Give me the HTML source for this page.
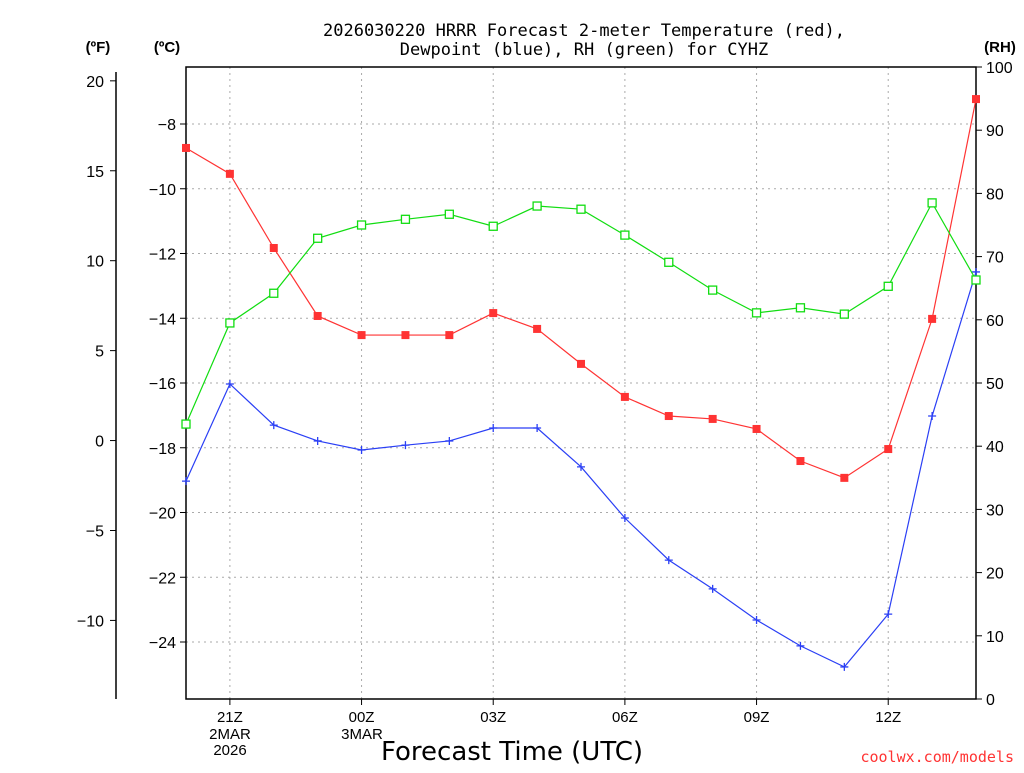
<!DOCTYPE html>
<html><head><meta charset="utf-8"><style>
body{margin:0;background:#fff;width:1024px;height:768px;overflow:hidden}
text{font-family:"Liberation Sans","DejaVu Sans",sans-serif}
</style></head><body>
<svg id="c" width="1024" height="768">
<text x="584" y="36" font-size="17" text-anchor="middle" style="font-family:'DejaVu Sans Mono','Liberation Mono',monospace">2026030220 HRRR Forecast 2-meter Temperature (red),</text>
<text x="584" y="55" font-size="17" text-anchor="middle" style="font-family:'DejaVu Sans Mono','Liberation Mono',monospace">Dewpoint (blue), RH (green) for CYHZ</text>
<text x="98" y="52" font-size="15" font-weight="bold" text-anchor="middle">(ºF)</text>
<text x="167" y="52" font-size="15" font-weight="bold" text-anchor="middle">(ºC)</text>
<text x="1000" y="52" font-size="15" font-weight="bold" text-anchor="middle">(RH)</text>
<text x="512" y="760" font-size="26" text-anchor="middle" style="font-family:'DejaVu Sans',sans-serif">Forecast Time (UTC)</text>
<text x="1014" y="762" font-size="15" fill="#f33" text-anchor="end" style="font-family:'DejaVu Sans Mono',monospace">coolwx.com/models</text>
<g id="g"></g>
</svg>
<script>
const hours=["20","21","22","23","00","01","02","03","04","05","06","07","08","09","10","11","12","13","14"];
const tempC=[-8.74,-9.54,-11.83,-13.93,-14.52,-14.52,-14.52,-13.84,-14.33,-15.41,-16.43,-17.02,-17.11,-17.42,-18.41,-18.93,-18.04,-14.02,-7.23];
const dewC=[-19.03,-16.03,-17.30,-17.79,-18.07,-17.92,-17.79,-17.39,-17.39,-18.59,-20.17,-21.47,-22.36,-23.32,-24.12,-24.77,-23.14,-17.02,-12.57];
const rh=[43.5,59.5,64.2,72.9,75.0,75.9,76.7,74.8,78.0,77.5,73.4,69.1,64.7,61.1,61.9,60.9,65.3,78.5,66.3];
const cTicks=[-8,-10,-12,-14,-16,-18,-20,-22,-24];
const fTicks=[20,15,10,5,0,-5,-10];
const rhTicks=[0,10,20,30,40,50,60,70,80,90,100];
const NS="http://www.w3.org/2000/svg",G=document.getElementById('g');
const X0=186,X1=976,Y0=67,Y1=699;
const xs=i=>X0+(X1-X0)*i/(hours.length-1);
const yC=c=>124+(-8-c)*32.375;
const yF=f=>yC((f-32)*5/9);
const yR=r=>Y1-(Y1-Y0)*r/100;
function el(t,a,p){const e=document.createElementNS(NS,t);for(const k in a)e.setAttribute(k,a[k]);(p||G).appendChild(e);return e;}
cTicks.forEach(c=>{const l=el('line',{x1:X0,x2:X1,y1:yC(c),y2:yC(c),stroke:'#aaa','stroke-dasharray':'2,4'});

});
hours.forEach((h,i)=>{if(i%3!==1)return;const x=xs(i);
const l=el('line',{x1:x,x2:x,y1:Y0,y2:Y1,stroke:'#aaa','stroke-dasharray':'2,4'});


const tk=el('line',{x1:x,x2:x,y1:Y1,y2:Y1+6,stroke:'#000'});


const t=el('text',{x:x,y:722,'font-size':15,'text-anchor':'middle'});t.textContent=h+'Z';

});
[["2MAR",230,739],["2026",230,755],["3MAR",362,739]].forEach(d=>{const t=el('text',{x:d[1],y:d[2],'font-size':15,'text-anchor':'middle'});t.textContent=d[0];

});
const fr=el('rect',{x:X0,y:Y0,width:X1-X0,height:Y1-Y0,fill:'none',stroke:'#000','stroke-width':1.5});


const fa=el('line',{x1:116,x2:116,y1:72,y2:Y1,stroke:'#000','stroke-width':1.5});


cTicks.forEach(c=>{const y=yC(c);el('line',{x1:X0-6,x2:X0,y1:y,y2:y,stroke:'#000'});
const t=el('text',{x:176,y:y+6,'font-size':16,'text-anchor':'end'});t.textContent='\u2212'+Math.abs(c);

});
fTicks.forEach(f=>{const y=yF(f);el('line',{x1:110,x2:116,y1:y,y2:y,stroke:'#000'});
const t=el('text',{x:104,y:y+6,'font-size':16,'text-anchor':'end'});t.textContent=(f<0?'\u2212':'')+Math.abs(f);

});
rhTicks.forEach(r=>{const y=yR(r);el('line',{x1:X1,x2:X1+6,y1:y,y2:y,stroke:'#000'});
const t=el('text',{x:986,y:y+6,'font-size':16});t.textContent=r;

});
function series(vals,yf,col,mk,name){
const p=el('polyline',{points:vals.map((v,i)=>xs(i)+','+yf(v)).join(' '),fill:'none',stroke:col,'stroke-width':1.2});


vals.forEach((v,i)=>{const x=xs(i),y=yf(v);let m;
if(mk==='sq')m=el('rect',{x:x-4,y:y-4,width:8,height:8,fill:col});
else if(mk==='open')m=el('rect',{x:x-4,y:y-4,width:8,height:8,fill:'#fff',stroke:col,'stroke-width':1.3});
else m=el('path',{d:`M${x-4},${y}H${x+4}M${x},${y-4}V${y+4}`,stroke:col,'stroke-width':1.3});

});}
series(tempC,yC,'#f33','sq','temperature');
series(dewC,yC,'#2a3ff5','plus','dewpoint');
series(rh,yR,'#11dd11','open','rh');
</script>
</body></html>
